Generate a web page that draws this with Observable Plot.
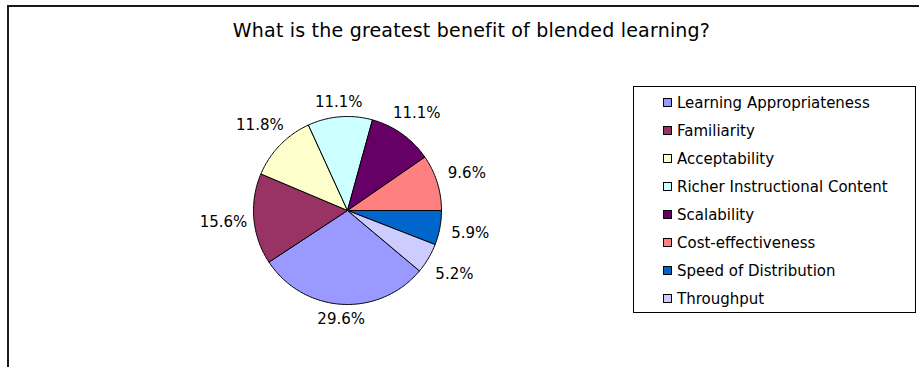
<!DOCTYPE html>
<html><head><meta charset="utf-8">
<script src="https://cdn.jsdelivr.net/npm/d3@7"></script>
<script src="https://cdn.jsdelivr.net/npm/@observablehq/plot@0.6"></script>
<style>
body{margin:0;background:#fff;font-family:"DejaVu Sans",Verdana,sans-serif;color:#000;}
#wrap{position:relative;width:919px;height:367px;overflow:hidden;background:#fff;}
#plot{position:absolute;left:0;top:0;}
#frame{position:absolute;left:7px;top:5px;width:1000px;height:500px;border-top:2px solid #1a1a1a;border-left:2px solid #1a1a1a;}
#title{position:absolute;left:0;width:943px;top:19px;text-align:center;font-size:19px;letter-spacing:0.2px;line-height:22px;}
#legend{position:absolute;left:633px;top:86px;width:283px;height:227px;border:1px solid #000;box-sizing:border-box;}
.sw{position:absolute;left:29px;width:9px;height:9px;border:1px solid #000;box-sizing:border-box;}
.lt{position:absolute;left:43px;font-size:15px;line-height:18px;white-space:nowrap;}
</style></head>
<body><div id="wrap"><div id="plot"></div><div id="frame"></div><div id="title"></div><div id="legend"></div></div>
<script>
const title = "What is the greatest benefit of blended learning?";
const categories = ["Learning Appropriateness","Familiarity","Acceptability","Richer Instructional Content","Scalability","Cost-effectiveness","Speed of Distribution","Throughput"];
const values = [29.6, 15.6, 11.8, 11.1, 11.1, 9.6, 5.9, 5.2];
const colors = ["#9999FF","#993366","#FFFFCC","#CCFFFF","#660066","#FF8080","#0066CC","#CCCCFF"];
const labels = ["29.6%","15.6%","11.8%","11.1%","11.1%","9.6%","5.9%","5.2%"];

// layout
const W = 919, H = 367, cx = 347, cy = 210, r = 94, k = 1.6;
const firstSliceAngle = 130; // degrees clockwise from 12 o'clock
const total = d3.sum(values);
const rad = a => a * Math.PI / 180;

const pts = [];
const labs = [];
let cum = 0;
categories.forEach((c, i) => {
  const a0 = firstSliceAngle + cum / total * 360;
  cum += values[i];
  const a1 = firstSliceAngle + cum / total * 360;
  pts.push({cat: c, x: 0, y: 0});
  const n = Math.max(2, Math.ceil(a1 - a0));
  for (let j = 0; j <= n; j++) {
    const a = rad(a0 + (a1 - a0) * j / n);
    pts.push({cat: c, x: Math.sin(a), y: Math.cos(a)});
  }
  pts.push({cat: c, x: 0, y: 0});
  const m = rad((a0 + a1) / 2);
  const s = Math.sin(m), co = Math.cos(m);
  const d = (100 + 24 * Math.abs(s) + 7 * Math.abs(co)) / r;
  labs.push({text: labels[i], x: s * d, y: co * d});
});

const chart = Plot.plot({
  width: W, height: H, margin: 0,
  style: {background: "transparent", fontFamily: "'DejaVu Sans', Verdana, sans-serif", overflow: "visible"},
  x: {domain: [-k, k], range: [cx - k * r, cx + k * r], axis: null},
  y: {domain: [-k, k], range: [cy + k * r, cy - k * r], axis: null},
  color: {domain: categories, range: colors},
  marks: [
    Plot.line(pts, {x: "x", y: "y", z: "cat", fill: "cat", stroke: "#000", strokeWidth: 1, curve: "linear", strokeLinejoin: "miter"}),
    Plot.text(labs, {x: "x", y: "y", text: "text", fontSize: 15, fill: "#000"})
  ]
});
document.getElementById("plot").appendChild(chart);
document.getElementById("title").textContent = title;

const leg = document.getElementById("legend");
categories.forEach((c, i) => {
  const center = 15.5 + i * 28;
  const sw = document.createElement("div");
  sw.className = "sw"; sw.style.top = (center - 4.5) + "px"; sw.style.background = colors[i];
  const t = document.createElement("div");
  t.className = "lt"; t.style.top = (center - 9) + "px"; t.textContent = c;
  leg.appendChild(sw); leg.appendChild(t);
});
</script></body></html>
